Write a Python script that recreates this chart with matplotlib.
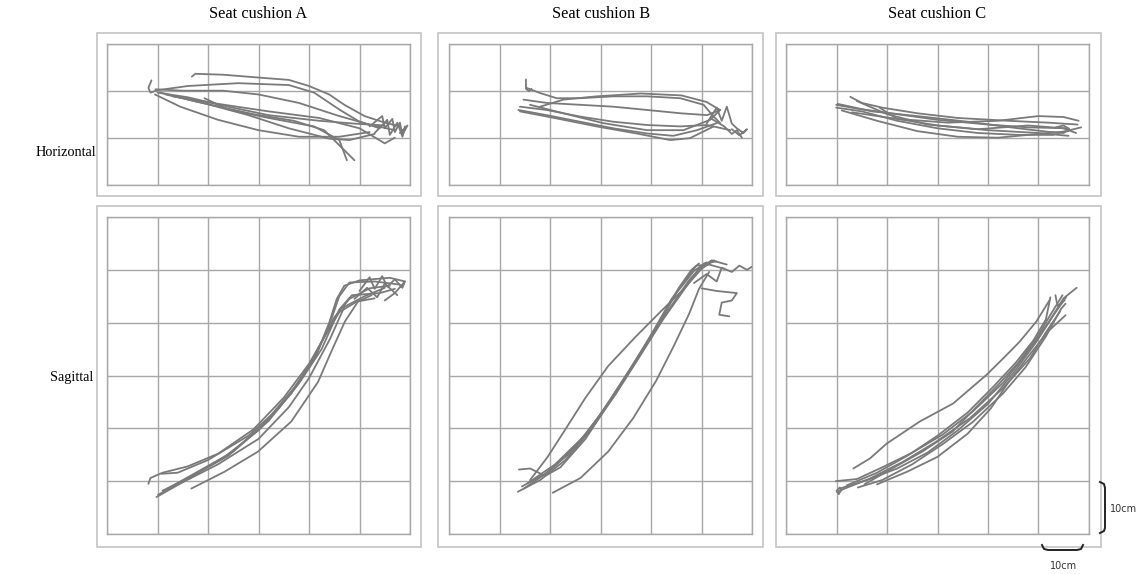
import matplotlib
matplotlib.use("Agg")
import matplotlib.pyplot as plt
from matplotlib.lines import Line2D
from matplotlib.patches import Rectangle

# hand tracks in cm, one grid cell = 10 cm
horiz_a = [
    [(16.8, 23.0), (17.5, 23.6), (23, 23.4), (30, 22.8), (36, 22.3), (40, 21.0), (44, 19.2), (47, 17.0), (51, 14.6), (55, 13.2), (58, 12.4)],
    [(8.8, 22.2), (8.2, 20.6), (8.6, 19.6), (10, 20.1), (16, 21.0), (26, 21.6), (36, 21.2), (41, 19.6), (46, 16.0), (50, 13.4), (54, 12.0)],
    [(9.6, 20.3), (15, 20.0), (23, 20.0), (30, 19.2), (38, 17.4), (46, 14.6), (52, 12.8), (57, 11.6)],
    [(10, 19.6), (16, 18.6), (24, 16.6), (32, 14.8), (42, 13.6), (49, 13.0), (55, 12.6)],
    [(9.5, 19.2), (14.5, 16.6), (22, 13.8), (30, 11.6), (38, 10.2), (46, 10.2), (52, 11.2)],
    [(19.3, 18.4), (24, 16.0), (32, 14.2), (41, 12.4), (46, 9.5), (47.5, 5.2)],
    [(10.5, 19.6), (18, 17.6), (29, 15.0), (37, 13.6), (43, 11.6), (49, 5.2)],
    [(11.6, 19.2), (19, 17.4), (28, 14.8), (36, 12.0), (44, 9.8), (48, 9.5), (53, 10.8)],
    [(13, 18.8), (22, 17.2), (32, 15.6), (42, 14.2), (50, 12.0), (55, 8.8), (57, 10.0)],
    [(52, 12.4), (54.5, 14.6), (55, 12.0), (56.5, 14.0), (57, 11.2), (58, 13.2), (58.5, 10.6), (59.5, 12.6), (58, 11.0)],
    [(53, 11.0), (55.5, 13.8), (56, 10.6), (57.5, 13.2), (58.5, 10.2), (59, 12.4)],
]

horiz_b = [
    [(15.2, 22.4), (15.2, 20.4), (15.8, 19.9), (16.3, 20.4)],
    [(15.3, 20.6), (18, 19.5), (21.3, 18.4), (25.9, 18.4), (32.5, 18.8), (39.2, 18.8), (45.8, 18.4), (50.4, 17.0), (52.4, 14.5), (53.7, 13.1)],
    [(14.7, 18.1), (19.3, 17.4), (25.9, 17.0), (32.5, 16.6), (39.2, 15.9), (45.8, 15.2), (51.1, 14.8), (53.7, 15.9)],
    [(14.0, 16.6), (19.3, 15.9), (25.9, 14.5), (32.5, 13.4), (39.2, 12.7), (45.8, 12.4), (51.1, 12.7), (55.7, 11.6)],
    [(13.7, 15.9), (19.3, 14.8), (25.9, 13.4), (32.5, 12.0), (39.2, 10.9), (44.4, 10.4), (49.1, 11.6), (53, 13.1)],
    [(14.0, 15.6), (21.3, 14.1), (29.2, 12.4), (37.1, 10.9), (43.8, 9.5), (47.7, 9.9), (52.4, 12.4)],
    [(16.0, 17.0), (22.6, 15.2), (30.5, 13.1), (39.2, 11.6), (46.4, 11.6), (51.7, 13.8), (53.7, 15.9)],
    [(18, 16.6), (22.6, 18.1), (29.2, 18.8), (38, 19.4), (46, 19.0), (51, 17.6), (53.5, 16.0)],
    [(51, 13), (53, 16.4), (54, 13.6), (55, 16.6), (56, 13), (57, 12), (58.3, 11), (59, 11.8), (57.5, 10.5), (56, 11.8)],
    [(52, 14), (54.5, 12.4), (56, 10.8), (57, 11.6), (58, 10.0)],
]

horiz_c = [
    [(12.7, 18.7), (15, 17.4), (19, 16.4), (26, 15.2), (34, 14.2), (44, 13.6), (52, 13.2), (57.8, 12.8)],
    [(9.9, 17.0), (14, 16.2), (22, 15.0), (30, 13.8), (40, 12.8), (48, 12.2), (56, 12.0)],
    [(9.9, 16.4), (15, 15.6), (22, 13.6), (30, 12.0), (38, 11.0), (46, 10.6), (53, 10.6)],
    [(11, 15.8), (18, 13.6), (26, 11.4), (34, 10.2), (42, 10.0), (50, 10.8), (56, 11.4)],
    [(10.2, 17.2), (17, 15.6), (26, 14.6), (36, 13.4), (46, 12.0), (54, 11.0), (58.5, 12.2)],
    [(13, 15.4), (22, 14.0), (32, 13.2), (42, 13.6), (50, 14.6), (55, 14.4), (58, 13.6)],
    [(14, 17.8), (20, 15.0), (28, 12.8), (38, 11.8), (48, 12.6), (55, 12.0), (57.5, 11.0)],
    [(18.5, 16.4), (22, 14.0), (30, 12.6), (40, 11.6), (50, 11.0), (56, 10.4)],
    [(52, 11.2), (55, 11.0), (56.2, 11.8), (55, 12.6), (53.5, 12.2)],
]

sag_a = [
    [(10.1, 7.4), (16, 10.6), (23, 14.4), (30, 19.6), (36.5, 26.6), (41, 33), (44, 39.5), (46, 45), (48, 47.6), (53, 47.8), (58, 47.2)],
    [(8.2, 9.5), (8.6, 10.6), (11, 11.6), (16, 12.8), (22, 15.2), (29, 19.8), (35, 25.8), (40, 32.2), (43.5, 38), (46, 42), (49.5, 44), (53, 44.6)],
    [(10.8, 11.4), (14, 11.6), (20, 14.0), (28, 18.6), (34, 23.8), (39, 30), (42, 35.5), (45, 41), (48, 44.5), (52, 46.5), (56, 47)],
    [(9.8, 7.0), (15, 9.8), (22, 13.2), (30, 18.0), (36, 24.0), (40, 29.5), (44.2, 37), (47, 43), (51, 45), (55, 46.6)],
    [(16.7, 8.6), (23.3, 11.8), (29.9, 15.6), (36.5, 21.3), (41.8, 28.8), (44.4, 34.5), (47.1, 40.2), (49.7, 44), (52.4, 45.2)],
    [(11, 8.2), (17, 11.0), (24, 14.8), (31, 20.8), (37, 27.6), (41.5, 34), (44, 40), (45.5, 44.5), (47, 47), (50, 48), (56, 48.5), (59, 47.8)],
    [(12, 8.6), (18, 11.8), (25, 15.6), (32, 21.4), (38, 28.5), (42.5, 35), (46, 42.5), (48.5, 45.2), (54, 45.6), (57, 46.4)],
    [(50, 46), (52, 48.6), (53, 46.4), (54.5, 48.8), (55.5, 46.8), (57, 48.2), (58.5, 46.6), (59, 47.8), (57, 45.6), (55, 44.2)],
    [(49, 44.5), (51.5, 46.6), (53.5, 44.8), (55, 47.4), (57.5, 45.2)],
]

sag_b = [
    [(13.6, 8.0), (18, 10.2), (23, 14.0), (28, 19.6), (33, 26.5), (38, 34.0), (42.5, 40.8), (46.5, 46.2), (49.5, 50.2), (52, 51.8), (55, 51.0)],
    [(14.4, 9.0), (19, 11.4), (24, 15.4), (29.5, 22.0), (35, 30.0), (40, 37.4), (44, 43.2), (47.5, 48.0), (50.5, 51.2), (53, 51.6)],
    [(13.8, 12.2), (16, 12.4), (19, 11.0), (22, 12.6), (27, 18.0), (32, 25.4), (37, 33.0), (41.5, 40.0), (45, 45.6), (48.5, 49.8), (51, 51.4)],
    [(16, 10.2), (19.5, 14.6), (23, 19.8), (27, 25.8), (31.5, 31.8), (37, 37.4), (42, 42.2), (46.5, 46.4), (50, 50.2), (52.5, 51.8)],
    [(20.5, 7.8), (26, 10.6), (31.5, 15.6), (36.5, 22.0), (41, 29.0), (44.5, 35.6), (47.5, 41.6), (49.5, 46.4), (51.5, 49.6)],
    [(14.8, 8.6), (20, 12.0), (26, 17.6), (31, 24.0), (36, 31.2), (40.5, 38.5), (44, 44.4), (47, 48.4), (49, 50.8), (51.5, 51.0), (54.5, 50.2)],
    [(15.5, 9.6), (21, 13.2), (27, 18.8), (32.5, 26.0), (37.5, 33.4), (42, 40.6), (45.5, 46.6), (48, 50.0), (49.5, 51.2)],
    [(48.5, 47.5), (51, 49.2), (53, 47.8), (54, 50.4), (56, 49.6), (57.5, 50.8), (59, 50), (60, 50.6)],
    [(50, 46.5), (53, 46), (57, 45.6), (56, 44.2), (54, 43.8), (53.5, 41.5), (55.5, 41.2)],
]

sag_c = [
    [(13.3, 12.4), (16.6, 14.3), (19.9, 17.1), (26.5, 21.3), (33.1, 24.7), (39.7, 30.1), (43, 33.2), (46.3, 36.4), (49.6, 40.2), (52.2, 44.2)],
    [(10, 8.0), (16.6, 10.5), (23.2, 13.7), (29.8, 17.5), (36.4, 21.9), (43, 27.6), (48.3, 33.2), (51.6, 38.3), (54.3, 42.1)],
    [(9.8, 10.0), (14, 10.4), (19, 12.6), (25, 15.4), (31, 18.8), (37, 23.2), (43, 28.6), (48, 34.6), (52, 40), (55, 44.6), (57.6, 46.6)],
    [(10.6, 8.6), (16, 10.2), (22, 12.4), (28, 15.4), (34, 19.6), (40, 24.6), (45, 30.4), (49.5, 36.2), (53, 41.4), (55.5, 44.8)],
    [(14.2, 8.8), (19, 10.2), (25, 13.2), (31, 17.0), (37, 21.2), (43, 26.6), (47.5, 31.6), (51.5, 37.4), (54.5, 42.6), (55.4, 43.6)],
    [(15.5, 9.4), (21, 12.4), (27, 15.6), (33, 19.4), (38.5, 24.8), (42, 28.2), (46, 32.4), (50, 37.6), (52.6, 41.8), (54.8, 45.2)],
    [(18, 9.4), (24, 11.8), (30, 14.6), (36, 19.0), (40.6, 23.8), (44, 28.6), (48, 33.6), (52, 38.4), (55.4, 41.4)],
    [(12, 9.2), (18, 11.6), (24, 14.8), (30, 18.6), (36, 23.0), (41, 27.8), (45.5, 32.4), (49, 36.6), (51.5, 40.6), (52.4, 44.8)],
    [(53.4, 45.2), (53.8, 43.2), (55.2, 44.2)],
    [(10.4, 7.6), (11, 8.4), (10.6, 8.8), (10, 8.2), (10.4, 7.6)],
]

col_titles = ["Seat cushion A", "Seat cushion B", "Seat cushion C"]
row_titles = ["Horizontal", "Sagittal"]

W, H = 1142, 574
fig = plt.figure(figsize=(W / 100, H / 100), dpi=100)

def rect(x0, y0, x1, y1):
    return [x0 / W, 1 - y1 / H, (x1 - x0) / W, (y1 - y0) / H]

inner_x = [(107, 410), (449.3, 752), (786.3, 1088.7)]
outer_x = [(96.7, 420.7), (438.3, 763.3), (775.7, 1101)]
inner_y = [(43.7, 184.7), (217, 534)]
outer_y = [(32.7, 195.7), (205.7, 546.7)]
ylims = [30, 60]
panels = [[horiz_a, horiz_b, horiz_c], [sag_a, sag_b, sag_c]]

grid_col = "#a8a8a8"
line_col = "#7a7a7a"

for r in range(2):
    for c in range(3):
        ox0, ox1 = outer_x[c]
        oy0, oy1 = outer_y[r]
        fig.add_artist(Rectangle((ox0 / W, 1 - oy1 / H), (ox1 - ox0) / W, (oy1 - oy0) / H,
                                 transform=fig.transFigure, fill=False, ec="#c4c4c4", lw=1.2))
        ax = fig.add_axes(rect(inner_x[c][0], inner_y[r][0], inner_x[c][1], inner_y[r][1]))
        ax.set_xlim(0, 60)
        ax.set_ylim(0, ylims[r])
        ax.set_xticks(range(0, 61, 10))
        ax.set_yticks(range(0, ylims[r] + 1, 10))
        ax.grid(True, color=grid_col, lw=1.0)
        ax.tick_params(length=0, labelbottom=False, labelleft=False)
        for sp in ax.spines.values():
            sp.set_color(grid_col)
            sp.set_linewidth(1.0)
        for track in panels[r][c]:
            xs = [p[0] for p in track]
            ys = [p[1] for p in track]
            ax.plot(xs, ys, color=line_col, lw=1.3, solid_capstyle="round", zorder=3)

for c, t in enumerate(col_titles):
    cx = sum(inner_x[c]) / 2
    fig.text(cx / W, 1 - 14 / H, t, ha="center", va="center",
             family="Liberation Serif", fontsize=11.8)

fig.text(96 / W, 1 - 152 / H, row_titles[0], ha="right", va="center",
         family="Liberation Serif", fontsize=10.3)
fig.text(93 / W, 1 - 378 / H, row_titles[1], ha="right", va="center",
         family="Liberation Serif", fontsize=10.3)

# 10 cm scale brackets
def fig_line(pts):
    xs = [p[0] / W for p in pts]
    ys = [1 - p[1] / H for p in pts]
    fig.add_artist(Line2D(xs, ys, transform=fig.transFigure, color="#222222", lw=1.4,
                          solid_joinstyle="round"))

fig_line([(1100, 482), (1104, 484), (1105, 488), (1105, 528), (1104, 531), (1100, 533)])
fig_line([(1042, 545), (1044, 549), (1048, 550), (1077, 550), (1081, 549), (1083, 545)])
fig.text(1124 / W, 1 - 509 / H, "10cm", ha="center", va="center", fontsize=7, color="#333333")
fig.text(1064 / W, 1 - 566 / H, "10cm", ha="center", va="center", fontsize=7, color="#333333")

fig.savefig("out.png", dpi=100)
